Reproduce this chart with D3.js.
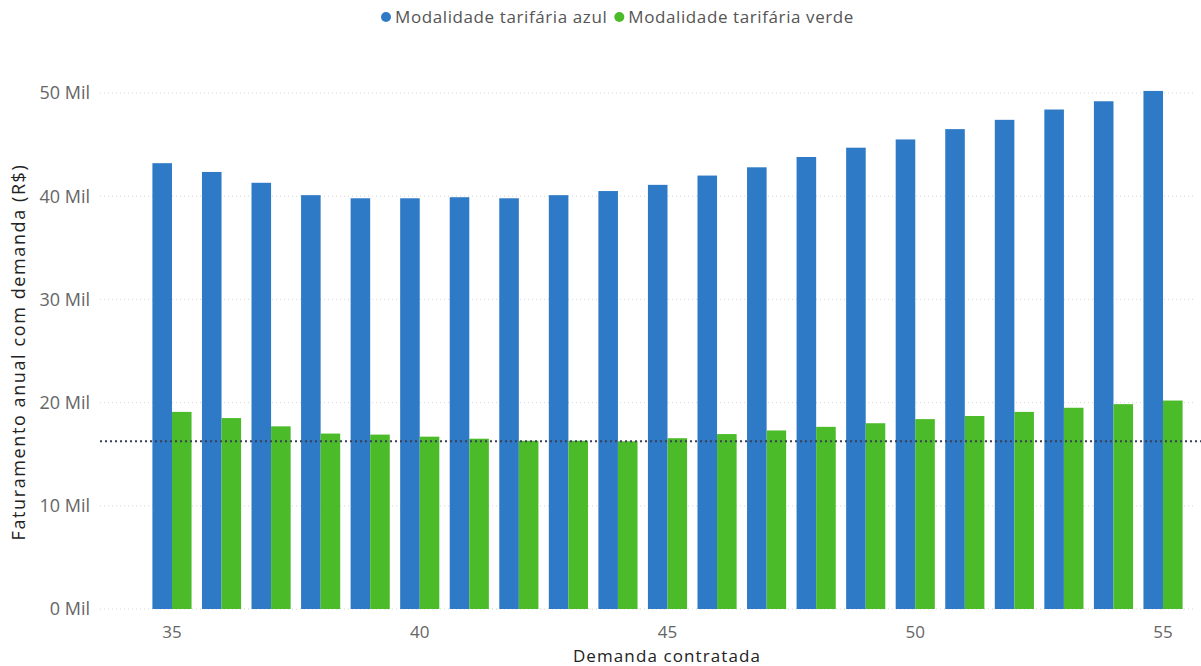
<!DOCTYPE html>
<html>
<head>
<meta charset="utf-8">
<script src="https://cdn.jsdelivr.net/npm/d3@7"></script>
<style>
  body { margin: 0; background: #fff; }
  svg text { font-family: "Open Sans", "Noto Sans", sans-serif; }
</style>
</head>
<body>
<svg id="chart" width="1201" height="666"></svg>
<script>
const categories = [35, 36, 37, 38, 39, 40, 41, 42, 43, 44, 45, 46, 47, 48, 49, 50, 51, 52, 53, 54, 55];
const azul = [43.2, 42.35, 41.3, 40.1, 39.8, 39.8, 39.9, 39.8, 40.1, 40.5, 41.1, 42.0, 42.8, 43.8, 44.7, 45.5, 46.5, 47.4, 48.4, 49.2, 50.2];
const verde = [19.1, 18.5, 17.7, 17.0, 16.9, 16.7, 16.5, 16.3, 16.3, 16.25, 16.55, 16.95, 17.3, 17.65, 18.0, 18.4, 18.7, 19.1, 19.5, 19.85, 20.2];
const yTicks = [0, 10, 20, 30, 40, 50];
const xTickLabels = [35, 40, 45, 50, 55];
const referenceLine = 16.25;
const seriesNames = ["Modalidade tarifária azul", "Modalidade tarifária verde"];
const seriesColors = ["#2f7ac6", "#4cbb2a"];

const svg = d3.select("#chart");

const x = d3.scaleBand()
  .domain(categories)
  .range([147.2, 1187.8])
  .paddingInner(0.21)
  .paddingOuter(0.105);

const xInner = d3.scaleBand()
  .domain([0, 1])
  .range([0, x.bandwidth()]);

const y = d3.scaleLinear()
  .domain([0, 50])
  .range([609, 93]);

// gridlines
svg.append("g")
  .selectAll("line")
  .data(yTicks)
  .join("line")
  .attr("x1", 100)
  .attr("x2", 1195)
  .attr("y1", (d) => y(d))
  .attr("y2", (d) => y(d))
  .attr("stroke", "#d6d6d6")
  .attr("stroke-width", 1)
  .attr("stroke-dasharray", "1,3");

// y tick labels
svg.append("g")
  .selectAll("text")
  .data(yTicks)
  .join("text")
  .attr("x", 90)
  .attr("y", (d) => y(d))
  .attr("dy", "0.35em")
  .attr("text-anchor", "end")
  .attr("font-size", "18px")
  .attr("fill", "#666")
  .text((d) => d + " Mil");

// bars
const series = [azul, verde];
series.forEach((values, s) => {
  svg.append("g")
    .selectAll("rect")
    .data(categories)
    .join("rect")
    .attr("x", (c) => x(c) + xInner(s))
    .attr("y", (c, i) => y(values[i]))
    .attr("width", xInner.bandwidth())
    .attr("height", (c, i) => y(0) - y(values[i]))
    .attr("fill", seriesColors[s]);
});

// dotted reference line
svg.append("line")
  .attr("x1", 100)
  .attr("x2", 1201)
  .attr("y1", y(referenceLine))
  .attr("y2", y(referenceLine))
  .attr("stroke", "#3a3f55")
  .attr("stroke-width", 2)
  .attr("stroke-dasharray", "2,3");

// x tick labels
svg.append("g")
  .selectAll("text")
  .data(xTickLabels)
  .join("text")
  .attr("x", (d) => x(d) + x.bandwidth() / 2)
  .attr("y", 632)
  .attr("dy", "0.35em")
  .attr("text-anchor", "middle")
  .attr("font-size", "17px")
  .attr("fill", "#666")
  .text((d) => d);

// axis titles
svg.append("text")
  .attr("x", 667)
  .attr("y", 656)
  .attr("dy", "0.35em")
  .attr("text-anchor", "middle")
  .attr("font-size", "17px")
  .attr("letter-spacing", "1.1px")
  .attr("fill", "#222")
  .text("Demanda contratada");

svg.append("text")
  .attr("transform", "translate(19,352) rotate(-90)")
  .attr("dy", "0.35em")
  .attr("text-anchor", "middle")
  .attr("font-size", "18px")
  .attr("letter-spacing", "1.6px")
  .attr("fill", "#222")
  .text("Faturamento anual com demanda (R$)");

// legend
const legend = svg.append("g");
let lx = 386;
seriesNames.forEach((name, s) => {
  legend.append("circle")
    .attr("cx", lx)
    .attr("cy", 17)
    .attr("r", 5)
    .attr("fill", seriesColors[s]);
  const t = legend.append("text")
    .attr("x", lx + 9)
    .attr("y", 17)
    .attr("dy", "0.35em")
    .attr("font-size", "17px")
    .attr("letter-spacing", "0.6px")
    .attr("fill", "#555")
    .text(name);
  lx += 9 + t.node().getComputedTextLength() + 12;
});
</script>
</body>
</html>
